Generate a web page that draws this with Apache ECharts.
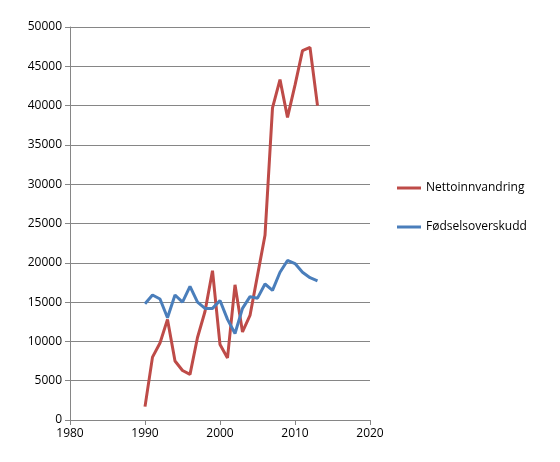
<!DOCTYPE html><html><head><meta charset="utf-8"><script src="https://cdn.jsdelivr.net/npm/echarts@6/dist/echarts.min.js"></script></head><body style="margin:0"><div id="c" style="width:560px;height:462px"></div><script>
const years=[1990,1991,1992,1993,1994,1995,1996,1997,1998,1999,2000,2001,2002,2003,2004,2005,2006,2007,2008,2009,2010,2011,2012,2013];
const netto=[1700,8000,9800,12800,7500,6300,5800,10500,13800,19000,9600,7900,17200,11200,13300,18400,23500,39700,43300,38500,42600,47000,47400,40000];
const fodsel=[14800,15900,15400,13000,15900,15000,17000,15000,14200,14200,15200,12800,11000,14200,15700,15500,17300,16500,18800,20300,19900,18800,18100,17700];
const font='"Open Sans", sans-serif';
const ch=echarts.init(document.getElementById('c'));
ch.setOption({animation:false,
grid:{left:70,right:190,top:27,bottom:42},
legend:{orient:'vertical',left:392,top:177,itemGap:27,icon:'rect',itemWidth:24,itemHeight:3,textStyle:{fontFamily:font,fontSize:12,color:'#000'},data:['Nettoinnvandring','Fødselsoverskudd']},
xAxis:{type:'value',min:1980,max:2020,interval:10,axisLine:{lineStyle:{color:'#868686'}},axisTick:{show:true,length:5,lineStyle:{color:'#868686'}},splitLine:{show:false},axisLabel:{color:'#000',fontFamily:font,fontSize:12,formatter:v=>String(v)}},
yAxis:{type:'value',min:0,max:50000,interval:5000,axisLine:{show:true,lineStyle:{color:'#868686'}},axisTick:{show:true,length:5,lineStyle:{color:'#868686'}},splitLine:{lineStyle:{color:'#868686'}},axisLabel:{color:'#000',fontFamily:font,fontSize:12,formatter:v=>String(v)}},
series:[
{name:'Nettoinnvandring',type:'line',showSymbol:false,data:years.map((y,i)=>[y,netto[i]]),lineStyle:{width:3,color:'#be4b48'},itemStyle:{color:'#be4b48'}},
{name:'Fødselsoverskudd',type:'line',showSymbol:false,data:years.map((y,i)=>[y,fodsel[i]]),lineStyle:{width:3,color:'#4a7ebb'},itemStyle:{color:'#4a7ebb'}}
]});
</script></body></html>
